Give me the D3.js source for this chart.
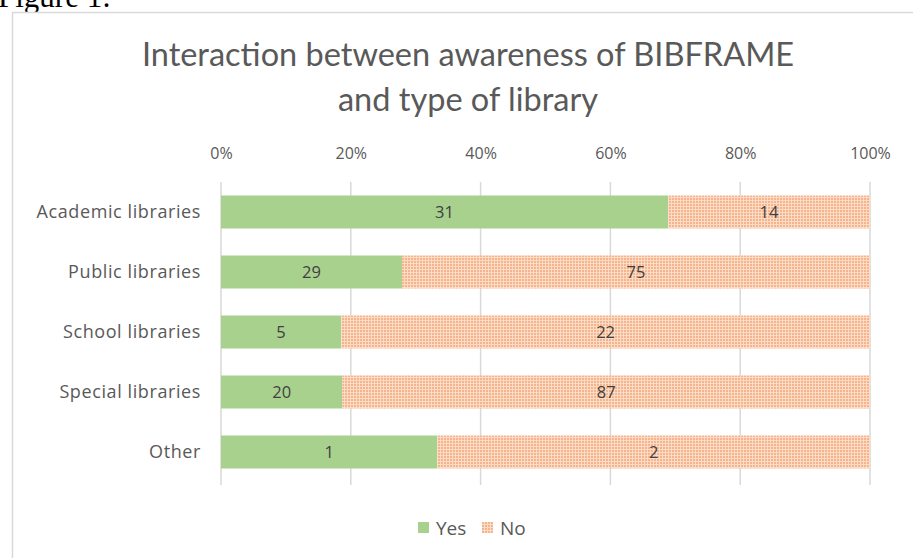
<!DOCTYPE html>
<html>
<head>
<meta charset="utf-8">
<script src="https://cdn.jsdelivr.net/npm/d3@7"></script>
<style>
  body { margin: 0; background: #fff; }
  svg { display: block; }
</style>
</head>
<body>
<div id="chart"></div>
<script>
// data
const categories = ["Academic libraries", "Public libraries", "School libraries", "Special libraries", "Other"]
const yesValues = [31, 29, 5, 20, 1]
const noValues = [14, 75, 22, 87, 2]
const seriesNames = ["Yes", "No"]
const tickValues = [0, 0.2, 0.4, 0.6, 0.8, 1]

const width = 913
const height = 558
const dimensions = {
    left: 221,
    right: 870,
    top: 182,
    bottom: 482
}

const rows = categories.map((c, i) => ({
    category: c,
    yes: yesValues[i],
    no: noValues[i],
    total: yesValues[i] + noValues[i]
}))

const svg = d3.select("#chart").append("svg")
    .attr("width", width)
    .attr("height", height)

// dotted fill for "No"
const defs = svg.append("defs")
const pat = defs.append("pattern")
    .attr("id", "dots")
    .attr("width", 3)
    .attr("height", 3)
    .attr("patternUnits", "userSpaceOnUse")
pat.append("rect").attr("width", 3).attr("height", 3).attr("fill", "#fcdcc6")
pat.append("rect").attr("width", 2).attr("height", 2).attr("fill", "#f5b48c")

// caption above the chart, mostly cut off
svg.append("text")
    .attr("x", -2)
    .attr("y", 7)
    .attr("font-family", "Liberation Serif, serif")
    .attr("font-size", 31)
    .attr("fill", "#000")
    .text("Figure 1:")

// chart frame
svg.append("rect")
    .attr("x", 12.5)
    .attr("y", 12.5)
    .attr("width", 920)
    .attr("height", 560)
    .attr("fill", "#fff")
    .attr("stroke", "#d9d9d9")
    .attr("stroke-width", 1.5)

// title
const title = svg.append("text")
    .attr("text-anchor", "middle")
    .attr("font-family", "Lato, sans-serif")
    .attr("font-size", 32.5)
    .attr("fill", "#595959")
title.append("tspan").attr("x", 468).attr("y", 66).text("Interaction between awareness of BIBFRAME")
title.append("tspan").attr("x", 468).attr("y", 111).text("and type of library")

// scales
const xScale = d3.scaleLinear()
    .domain([0, 1])
    .range([dimensions.left, dimensions.right])

const yScale = d3.scaleBand()
    .domain(categories)
    .range([dimensions.top, dimensions.bottom])
    .paddingInner(0.45)
    .paddingOuter(0.225)

// gridlines
svg.append("g")
    .selectAll("line")
    .data(tickValues)
    .join("line")
    .attr("x1", d => xScale(d))
    .attr("x2", d => xScale(d))
    .attr("y1", dimensions.top)
    .attr("y2", dimensions.bottom + 3)
    .attr("stroke", "#d9d9d9")
    .attr("stroke-width", 1.5)

// top axis labels
const xAxis = svg.append("g")
    .attr("transform", `translate(0, 159)`)
    .call(d3.axisTop(xScale).tickValues(tickValues).tickFormat(d3.format(".0%")).tickSize(0).tickPadding(0))
xAxis.select(".domain").remove()
xAxis.selectAll("text")
    .attr("font-family", "Open Sans, sans-serif")
    .attr("font-size", 16)
    .attr("fill", "#595959")

// category labels
const yAxis = svg.append("g")
    .attr("transform", `translate(${dimensions.left - 20}, 0)`)
    .call(d3.axisLeft(yScale).tickSize(0).tickPadding(0))
yAxis.select(".domain").remove()
yAxis.selectAll("text")
    .attr("font-family", "Open Sans, sans-serif")
    .attr("font-size", 18)
    .attr("letter-spacing", 0.6)
    .attr("fill", "#595959")

// bars
const bars = svg.append("g")
bars.selectAll(".yes")
    .data(rows)
    .join("rect")
    .attr("class", "yes")
    .attr("x", xScale(0))
    .attr("y", d => yScale(d.category))
    .attr("width", d => xScale(d.yes / d.total) - xScale(0))
    .attr("height", yScale.bandwidth())
    .attr("fill", "#a9d18e")

bars.selectAll(".no")
    .data(rows)
    .join("rect")
    .attr("class", "no")
    .attr("x", d => xScale(d.yes / d.total))
    .attr("y", d => yScale(d.category))
    .attr("width", d => xScale(1) - xScale(d.yes / d.total))
    .attr("height", yScale.bandwidth())
    .attr("fill", "url(#dots)")

// value labels
const labels = svg.append("g")
    .attr("font-family", "Open Sans, sans-serif")
    .attr("font-size", 16.5)
    .attr("fill", "#404040")
    .attr("text-anchor", "middle")
labels.selectAll(".ly")
    .data(rows)
    .join("text")
    .attr("x", d => xScale(d.yes / d.total / 2))
    .attr("y", d => yScale(d.category) + yScale.bandwidth() / 2)
    .attr("dy", "0.35em")
    .text(d => d.yes)
labels.selectAll(".ln")
    .data(rows)
    .join("text")
    .attr("x", d => xScale((d.yes / d.total + 1) / 2))
    .attr("y", d => yScale(d.category) + yScale.bandwidth() / 2)
    .attr("dy", "0.35em")
    .text(d => d.no)

// legend
const legendX = [418, 482]
const legend = svg.append("g")
    .selectAll("g")
    .data(seriesNames)
    .join("g")
    .attr("transform", (d, i) => `translate(${legendX[i]}, 522)`)
legend.append("rect")
    .attr("width", 11)
    .attr("height", 11)
    .attr("fill", (d, i) => i === 0 ? "#a9d18e" : "url(#dots)")
legend.append("text")
    .attr("x", 18)
    .attr("y", 6)
    .attr("dy", "0.35em")
    .attr("font-family", "Open Sans, sans-serif")
    .attr("font-size", 19)
    .attr("fill", "#595959")
    .text(d => d)
</script>
</body>
</html>
